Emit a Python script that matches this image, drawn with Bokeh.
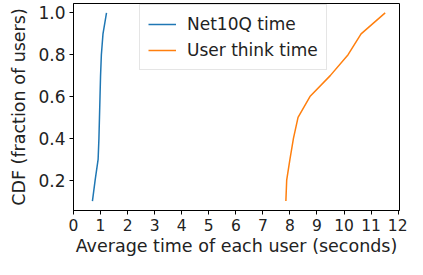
from bokeh.plotting import figure
from bokeh.models import Range1d, FixedTicker, Legend, LegendItem
from bokeh.embed import file_html
from bokeh.resources import INLINE

cdf = [0.1, 0.2, 0.3, 0.4, 0.5, 0.6, 0.7, 0.8, 0.9, 1.0]
net10q_time = [0.7, 0.8, 0.91, 0.94, 0.96, 0.98, 1.0, 1.03, 1.09, 1.22]
think_time = [7.85, 7.88, 8.0, 8.13, 8.3, 8.74, 9.49, 10.15, 10.63, 11.52]
x_ticks = list(range(0, 13))
y_ticks = [0.2, 0.4, 0.6, 0.8, 1.0]
y_tick_labels = {0.2: "0.2", 0.4: "0.4", 0.6: "0.6", 0.8: "0.8", 1.0: "1.0"}

FONT = "DejaVu Sans"

p = figure(width=407, height=259, output_backend="svg", toolbar_location=None,
           x_range=Range1d(0, 12.05), y_range=Range1d(0.055, 1.045))
p.min_border_left = 73
p.min_border_right = 8
p.min_border_top = 3
p.min_border_bottom = 49

p.xgrid.visible = False
p.ygrid.visible = False
p.outline_line_color = "black"
p.outline_line_width = 1

for ax in (p.xaxis[0], p.yaxis[0]):
    ax.major_tick_in = 0
    ax.major_tick_out = 4
    ax.minor_tick_out = 0
    ax.minor_tick_in = 0
    ax.axis_line_color = "black"
    ax.major_tick_line_color = "black"
    ax.major_label_text_font = FONT
    ax.major_label_text_font_size = "15.5px"
    ax.major_label_text_color = "#222222"
    ax.axis_label_text_font = FONT
    ax.axis_label_text_font_size = "17.5px"
    ax.axis_label_text_font_style = "normal"
    ax.axis_label_text_color = "#222222"

p.yaxis.major_label_text_font_size = "17px"
p.xaxis.ticker = FixedTicker(ticks=x_ticks)
p.yaxis.ticker = FixedTicker(ticks=y_ticks)
p.yaxis.major_label_overrides = y_tick_labels
p.xaxis.axis_label = "Average time of each user (seconds)"
p.yaxis.axis_label = "CDF (fraction of users)"
p.xaxis.axis_label_standoff = 2
p.yaxis.axis_label_standoff = 6
p.xaxis.major_label_standoff = 4
p.yaxis.major_label_standoff = 4

r1 = p.line(net10q_time, cdf, line_color="#1f77b4", line_width=1.5)
r2 = p.line(think_time, cdf, line_color="#ff7f0e", line_width=1.5)

legend = Legend(items=[LegendItem(label="Net10Q time", renderers=[r1]),
                       LegendItem(label="User think time", renderers=[r2])],
                location=(66, 140))
legend.label_text_font = FONT
legend.label_text_font_size = "17px"
legend.label_text_color = "#222222"
legend.border_line_color = "#cccccc"
legend.border_line_width = 1
legend.glyph_width = 28
legend.glyph_height = 22
legend.label_height = 22
legend.spacing = 4
legend.padding = 8
legend.margin = 0
legend.label_standoff = 11
p.add_layout(legend, "center")

open("out.html", "w").write(file_html(p, INLINE))
